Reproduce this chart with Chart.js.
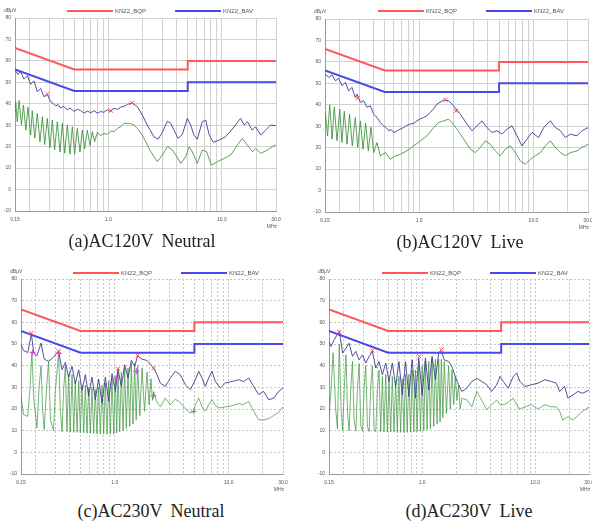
<!DOCTYPE html>
<html>
<head>
<meta charset="utf-8">
<title>Conducted emission AC120V / AC230V</title>
<script src="https://cdn.jsdelivr.net/npm/chart.js@4.4.1/dist/chart.umd.min.js"></script>
<style>
	html, body { margin: 0; padding: 0; background: #fff; }
	body { position: relative; width: 592px; height: 523px; overflow: hidden; }
	.emi-canvas { position: absolute; }
	.emi-legend {
		position: absolute; display: flex; align-items: center; height: 8px;
		font: 6px "Liberation Sans", Arial, sans-serif; color: #555; white-space: nowrap;
	}
	.emi-legend .sw { display: inline-block; width: 46px; height: 2px; margin-right: 2px; }
	.emi-legend .txt { margin-right: 29px; }
	.emi-caption {
		position: absolute; height: 20px; line-height: 20px; text-align: center;
		font: 18px "Liberation Serif", "DejaVu Serif", serif; color: #222; word-spacing: 4px;
	}
</style>
</head>
<body>
<canvas id="emiA" class="emi-canvas" width="296" height="232" style="left:0;top:0"></canvas>
<canvas id="emiB" class="emi-canvas" width="304" height="232" style="left:296px;top:0"></canvas>
<canvas id="emiC" class="emi-canvas" width="296" height="230" style="left:0;top:262px"></canvas>
<canvas id="emiD" class="emi-canvas" width="304" height="230" style="left:296px;top:262px"></canvas>

<div class="emi-caption" style="left:0;top:231px;width:284px">(a)AC120V Neutral</div>
<div class="emi-caption" style="left:296px;top:232px;width:328px">(b)AC120V Live</div>
<div class="emi-caption" style="left:0;top:501px;width:302px">(c)AC230V Neutral</div>
<div class="emi-caption" style="left:296px;top:501px;width:346px">(d)AC230V Live</div>

<script>
(function() {
	'use strict';

	/* ═══ DATA ═══ */

	// KN22 class B limits (MHz / dBuV)
	var limitFreq = [ 0.15, 0.5, 5, 5, 30 ];
	var qpLimit   = [ 66, 56, 56, 60, 60 ];
	var avLimit   = [ 56, 46, 46, 50, 50 ];

	var freqTicks     = [ 0.15, 0.2, 0.3, 0.4, 0.5, 0.6, 0.7, 0.8, 0.9, 1, 2, 3, 4, 5, 6, 7, 8, 9, 10, 20, 30 ];
	var freqLabelAt   = [ 0.15, 1, 10, 30 ];
	var freqLabelText = [ '0.15', '1.0', '10.0', '30.0' ];

	// (a) AC120V Neutral
	var aPeak = [[0.15,55.7],[0.159,53.7],[0.168,55.0],[0.180,51.5],[0.193,53.1],[0.206,49.1],[0.221,50.6],[0.236,45.6],[0.253,47.2],[0.270,43.3],[0.289,44.4],[0.309,41.0],[0.325,40.2],[0.342,39.0],[0.36,39.6],[0.379,38.0],[0.40,38.8],[0.434,37.2],[0.46,38.0],[0.497,36.4],[0.53,37.4],[0.569,36.8],[0.61,35.6],[0.651,36.6],[0.70,35.8],[0.745,36.8],[0.80,35.6],[0.853,36.4],[0.91,36.0],[0.978,37.2],[1.04,36.4],[1.12,37.9],[1.20,37.4],[1.28,38.4],[1.37,38.8],[1.47,39.7],[1.62,40.4],[1.80,38.6],[1.99,34.7],[2.20,30.1],[2.52,24.6],[2.74,23.5],[2.99,26.7],[3.31,31.9],[3.54,30.9],[3.84,27.0],[4.11,23.9],[4.48,25.7],[4.96,33.2],[5.30,30.1],[5.67,25.4],[6.07,23.5],[6.72,31.6],[7.20,32.4],[7.70,25.7],[8.40,22.0],[9.47,23.1],[10.75,24.6],[11.95,27.3],[13.2,30.1],[14.6,33.2],[15.7,30.1],[16.8,31.6],[18.5,27.7],[19.8,29.3],[22.0,25.4],[24.3,27.7],[26.9,30.1],[30,29.8]];
	var aAvg  = [[0.15,36.0],[0.152,41.0],[0.157,31.6],[0.163,41.5],[0.171,30.1],[0.178,39.4],[0.187,27.7],[0.195,38.4],[0.206,25.4],[0.213,36.8],[0.224,23.9],[0.236,35.5],[0.249,22.3],[0.262,34.0],[0.274,21.0],[0.289,33.2],[0.305,19.5],[0.320,32.4],[0.335,18.5],[0.354,31.6],[0.374,17.5],[0.392,30.9],[0.411,17.0],[0.434,30.1],[0.458,16.5],[0.480,29.3],[0.503,16.5],[0.531,28.5],[0.561,17.5],[0.588,27.7],[0.617,19.0],[0.651,27.7],[0.687,20.5],[0.720,27.0],[0.755,22.3],[0.798,26.7],[0.85,25.2],[0.914,26.2],[0.98,25.8],[1.047,27.3],[1.12,27.0],[1.198,28.5],[1.28,29.2],[1.372,30.9],[1.52,30.9],[1.68,30.1],[1.86,27.7],[2.06,23.9],[2.36,17.6],[2.70,13.0],[2.99,16.1],[3.31,20.0],[3.59,18.9],[3.92,16.1],[4.34,12.2],[4.80,15.3],[5.14,20.0],[5.49,17.6],[6.07,12.2],[6.72,18.4],[7.35,17.6],[8.07,11.4],[9.14,13.0],[10.45,14.5],[11.95,16.1],[13.7,20.7],[15.1,23.9],[16.8,20.7],[18.6,17.6],[19.8,19.2],[22.0,16.9],[25.2,18.4],[27.9,20.0],[30,20.7]];
	var aQpMarks = [[0.29,44.5],[1.05,36.8],[1.62,40.4]];
	var aAvMarks = [];

	// (b) AC120V Live
	var bPeak = [[0.15,54.3],[0.162,52.8],[0.173,53.9],[0.185,51.2],[0.198,52.3],[0.211,48.9],[0.226,50.4],[0.242,46.5],[0.258,48.1],[0.276,43.4],[0.286,45.0],[0.306,41.1],[0.327,41.9],[0.350,38.8],[0.374,39.5],[0.400,35.6],[0.428,34.1],[0.457,31.7],[0.489,30.2],[0.51,29.5],[0.541,27.9],[0.57,28.4],[0.598,27.1],[0.63,27.6],[0.661,28.3],[0.70,28.9],[0.732,29.4],[0.78,30.4],[0.837,31.0],[0.90,31.4],[0.957,32.5],[1.02,33.4],[1.095,34.1],[1.17,34.9],[1.252,36.4],[1.34,38.2],[1.432,40.3],[1.638,42.2],[1.812,41.9],[2.004,39.5],[2.292,35.6],[2.621,31.0],[2.900,27.9],[3.206,30.2],[3.546,32.5],[3.922,29.4],[4.338,27.1],[4.797,27.9],[5.306,26.3],[5.868,28.6],[6.491,30.2],[7.178,25.5],[7.940,20.8],[8.780,24.0],[9.711,27.1],[11.11,24.7],[12.28,29.4],[14.05,32.5],[15.54,29.4],[17.19,27.9],[19.01,24.7],[21.02,26.3],[24.04,25.5],[26.60,27.9],[30,29.4]];
	var bAvg  = [[0.151,36.5],[0.158,25.5],[0.165,40.0],[0.173,24.0],[0.181,39.0],[0.191,23.2],[0.202,38.0],[0.211,22.4],[0.221,37.0],[0.234,21.6],[0.246,35.5],[0.260,20.8],[0.276,34.0],[0.290,20.1],[0.306,32.5],[0.323,19.3],[0.340,31.5],[0.359,18.5],[0.379,29.5],[0.400,17.7],[0.428,22.4],[0.457,16.2],[0.506,17.7],[0.559,14.6],[0.619,16.2],[0.684,16.9],[0.782,18.5],[0.895,20.8],[1.024,23.2],[1.171,25.5],[1.339,29.4],[1.481,31.7],[1.638,32.5],[1.812,33.3],[1.938,31.7],[2.143,28.6],[2.451,24.0],[2.803,19.3],[3.100,17.7],[3.429,20.1],[3.793,23.2],[4.195,21.6],[4.639,18.5],[5.131,16.2],[5.675,19.3],[6.277,20.8],[6.942,17.7],[7.678,13.8],[8.491,12.3],[9.391,14.6],[10.38,16.2],[11.48,17.7],[12.70,20.8],[14.05,23.2],[15.54,20.1],[17.19,17.7],[19.01,16.2],[21.02,17.7],[24.04,18.5],[26.60,20.1],[30,21.6]];
	var bQpMarks = [[0.29,43.2],[1.70,42.2],[2.10,37.2]];
	var bAvMarks = [];

	// (c) AC230V Neutral
	var cPeak = [[0.15,49.7],[0.158,47.0],[0.172,46.1],[0.185,54.7],[0.194,45.8],[0.207,44.6],[0.225,50.4],[0.240,43.0],[0.262,42.0],[0.290,44.0],[0.321,46.6],[0.344,38.1],[0.368,41.5],[0.393,34.7],[0.421,39.7],[0.450,31.7],[0.482,38.1],[0.515,28.6],[0.551,35.8],[0.589,26.1],[0.630,34.7],[0.674,24.3],[0.721,33.8],[0.772,22.7],[0.826,34.7],[0.884,23.5],[0.945,36.3],[1.011,28.1],[1.067,38.4],[1.141,30.4],[1.221,40.4],[1.306,34.3],[1.397,42.4],[1.494,39.7],[1.588,44.6],[1.733,43.0],[1.918,42.4],[2.079,40.4],[2.194,38.9],[2.348,35.8],[2.511,32.0],[2.779,30.4],[3.074,34.3],[3.401,37.4],[3.763,35.8],[4.164,31.2],[4.607,28.9],[5.096,33.5],[5.451,37.4],[5.833,34.3],[6.237,30.4],[6.673,34.3],[7.139,37.4],[7.637,32.7],[8.452,29.7],[9.348,32.0],[10.70,32.7],[12.24,33.5],[13.54,32.7],[14.98,34.3],[16.58,30.4],[18.34,26.6],[20.29,28.1],[22.45,24.3],[24.85,25.0],[27.49,28.1],[30,29.7]];
	var cAvg  = [[0.15,25.8],[0.158,17.4],[0.172,16.6],[0.18,30.0],[0.187,46.5],[0.194,25.0],[0.207,11.2],[0.216,30.0],[0.225,40.0],[0.232,20.0],[0.240,10.5],[0.252,30.0],[0.262,42.0],[0.272,15.0],[0.290,10.0],[0.300,28.0],[0.321,46.0],[0.332,20.0],[0.344,9.5],[0.356,30.0],[0.368,40.0],[0.380,9.5],[0.393,36.0],[0.406,9.3],[0.421,36.0],[0.436,9.2],[0.450,33.0],[0.466,9.2],[0.482,33.0],[0.498,9.0],[0.515,31.0],[0.533,9.0],[0.551,31.0],[0.570,8.8],[0.589,30.0],[0.610,8.8],[0.630,30.0],[0.652,8.6],[0.674,29.0],[0.697,8.6],[0.721,30.0],[0.746,8.5],[0.772,31.0],[0.799,8.5],[0.826,32.0],[0.855,8.4],[0.884,33.0],[0.914,8.4],[0.945,34.0],[0.978,8.5],[1.011,35.0],[1.039,9.0],[1.067,37.0],[1.104,9.5],[1.141,37.0],[1.181,10.0],[1.221,39.0],[1.263,11.0],[1.306,39.0],[1.351,12.0],[1.397,41.0],[1.445,13.0],[1.494,41.0],[1.540,15.0],[1.588,40.0],[1.660,17.0],[1.733,39.0],[1.825,19.0],[1.918,37.0],[2.000,22.0],[2.079,34.0],[2.140,24.0],[2.194,28.0],[2.348,23.0],[2.511,21.0],[2.779,25.0],[3.074,22.0],[3.401,24.5],[3.763,23.0],[4.164,20.0],[4.607,18.0],[4.93,19.0],[5.096,22.0],[5.451,25.0],[5.833,21.0],[6.237,19.0],[6.673,22.0],[7.139,24.3],[7.637,21.5],[8.452,20.5],[9.348,21.0],[10.70,21.5],[12.24,22.5],[13.54,22.0],[14.98,23.5],[16.58,19.0],[18.34,15.0],[20.29,15.0],[22.45,15.5],[24.85,17.0],[27.49,18.5],[30,21.0]];
	var cQpMarks = [[0.185,55.0],[0.321,46.8],[1.067,38.6],[1.588,44.6],[2.194,38.9]];
	var cAvMarks = [[0.190,46.1],[0.321,45.6],[1.03,34.3],[1.545,37.4],[2.19,26.1],[4.93,18.9]];

	// (d) AC230V Live
	var dPeak = [[0.15,51.2],[0.156,48.9],[0.167,52.0],[0.185,55.9],[0.198,45.8],[0.212,48.1],[0.226,50.4],[0.242,44.3],[0.259,46.6],[0.277,42.7],[0.297,45.0],[0.317,41.2],[0.340,44.3],[0.363,46.6],[0.389,38.9],[0.416,41.9],[0.445,35.8],[0.476,41.2],[0.509,32.7],[0.545,41.2],[0.583,30.4],[0.623,41.9],[0.667,26.5],[0.713,41.9],[0.763,25.8],[0.816,42.7],[0.873,25.0],[0.934,43.5],[1.000,26.5],[1.069,43.5],[1.144,28.8],[1.224,44.3],[1.310,33.5],[1.401,45.8],[1.479,46.6],[1.571,42.7],[1.715,41.9],[1.835,39.6],[1.963,35.0],[2.100,31.2],[2.247,28.1],[2.486,29.6],[2.752,32.7],[3.044,34.2],[3.368,32.7],[3.728,31.2],[4.124,28.1],[4.563,31.2],[4.883,35.0],[5.224,32.7],[5.780,29.6],[6.397,35.0],[6.842,36.6],[7.320,32.7],[8.100,30.4],[9.271,31.2],[10.61,31.9],[12.15,33.5],[13.90,32.7],[15.38,31.9],[16.46,28.1],[18.21,30.4],[19.48,25.0],[21.56,26.5],[23.86,28.1],[26.40,27.3],[30,28.8]];
	var dAvg  = [[0.15,16.0],[0.156,28.0],[0.163,46.0],[0.172,20.0],[0.178,11.0],[0.185,50.0],[0.192,20.0],[0.198,10.0],[0.205,30.0],[0.212,45.0],[0.219,18.0],[0.226,10.0],[0.234,30.0],[0.242,42.0],[0.250,15.0],[0.259,9.8],[0.268,30.0],[0.277,41.0],[0.287,12.0],[0.297,9.7],[0.307,30.0],[0.317,40.0],[0.328,12.0],[0.340,9.6],[0.351,30.0],[0.363,40.0],[0.376,10.0],[0.389,9.5],[0.402,30.0],[0.416,38.0],[0.430,9.5],[0.445,35.0],[0.460,9.4],[0.476,36.0],[0.492,9.4],[0.509,33.0],[0.527,9.3],[0.545,35.0],[0.564,9.3],[0.583,33.0],[0.603,9.2],[0.623,35.0],[0.645,9.2],[0.667,34.0],[0.690,9.2],[0.713,36.0],[0.738,9.2],[0.763,36.0],[0.789,9.3],[0.816,38.0],[0.844,9.4],[0.873,38.0],[0.903,9.5],[0.934,40.0],[0.967,9.6],[1.000,40.0],[1.034,10.0],[1.069,42.0],[1.106,10.5],[1.144,42.0],[1.184,11.0],[1.224,43.0],[1.266,12.0],[1.310,43.0],[1.355,13.0],[1.401,43.0],[1.440,14.0],[1.479,43.0],[1.525,16.0],[1.571,42.0],[1.640,18.0],[1.715,40.0],[1.775,20.0],[1.835,38.0],[1.900,22.0],[1.963,35.0],[2.03,24.0],[2.100,31.0],[2.17,20.0],[2.247,25.0],[2.486,24.2],[2.752,21.0],[3.044,28.1],[3.368,24.0],[3.728,19.6],[4.124,22.0],[4.563,24.2],[4.883,22.0],[5.224,22.0],[5.780,23.0],[6.397,25.0],[6.842,22.0],[7.320,20.0],[8.100,21.0],[9.271,22.0],[10.61,20.0],[12.15,22.0],[13.90,21.0],[15.38,21.0],[16.46,19.0],[17.5,14.9],[19.48,16.5],[21.56,14.9],[23.86,17.0],[26.40,19.0],[30,21.0]];
	var dQpMarks = [[0.185,55.5],[0.363,47.0],[0.945,44.3],[1.479,47.4]];
	var dAvMarks = [];

	/* ═══ PANELS ═══ */

	var panels = [
		{ id: 'emiA', peak: aPeak, avg: aAvg, qp: aQpMarks, av: aAvMarks, yw: 15, pad: { top: 18, right: 20, bottom: 5, left: 0 }, dashed: false, legend: [ 67, 7 ] },
		{ id: 'emiB', peak: bPeak, avg: bAvg, qp: bQpMarks, av: bAvMarks, yw: 29, pad: { top: 19, right: 12, bottom: 4, left: 0 }, dashed: false, legend: [ 378, 7 ] },
		{ id: 'emiC', peak: cPeak, avg: cAvg, qp: cQpMarks, av: cAvMarks, yw: 21, pad: { top: 17, right: 13, bottom: 2, left: 0 }, dashed: true, legend: [ 73, 269 ] },
		{ id: 'emiD', peak: dPeak, avg: dAvg, qp: dQpMarks, av: dAvMarks, yw: 33, pad: { top: 17, right: 9, bottom: 2, left: 0 }, dashed: true, legend: [ 382, 269 ] }
	];

	var tickFont = { size: 5, family: '"Liberation Sans", Arial, sans-serif' };

	var unitLabels = {
		id: 'unitLabels',
		afterDraw: function( chart ) {
			var a   = chart.chartArea;
			var ctx = chart.ctx;
			ctx.save();
			ctx.font = '5px "Liberation Sans", Arial, sans-serif';
			ctx.fillStyle = '#555';
			ctx.textBaseline = 'middle';
			ctx.textAlign = 'left';
			ctx.fillText( 'dBµV', a.left - 11, a.top - 7 );
			ctx.textAlign = 'right';
			ctx.fillText( 'MHz', a.right + 1, a.bottom + 16 );
			ctx.restore();
		}
	};

	panels.forEach( initPanel );

	function initPanel( p ) {
		var el = document.getElementById( p.id );
		if ( ! el ) return;

		// dense harmonic panels get a lighter green so the comb reads as a fill
		var avgColor = p.dashed ? 'rgba(58, 150, 58, 0.7)' : 'rgba(48, 140, 48, 0.8)';

		var datasets = [
			markerSet( p.qp, 'crossRot', '#ff4d4d' ),
			markerSet( p.av, 'cross', '#e03ce0' ),
			limitSet( 'KN22_BQP', qpLimit, '#ff5858' ),
			limitSet( 'KN22_BAV', avLimit, '#4848ec' ),
			traceSet( p.peak, 'rgba(62, 62, 148, 0.9)' ),
			traceSet( p.avg, avgColor )
		];

		var gridColor = p.dashed ? '#c4c4c4' : '#d2d2d2';

		new Chart( el.getContext( '2d' ), {
			type: 'line',
			data: { datasets: datasets },
			options: {
				responsive: false,
				animation: false,
				layout: { padding: p.pad },
				plugins: {
					legend: { display: false },
					tooltip: { enabled: false }
				},
				scales: {
					x: {
						type: 'logarithmic',
						min: 0.15,
						max: 30,
						afterBuildTicks: function( scale ) {
							scale.ticks = freqTicks.map( function( v ) { return { value: v }; } );
						},
						afterFit: function( scale ) { scale.height = 16; },
						ticks: {
							autoSkip: false,
							maxRotation: 0,
							padding: 6,
							font: tickFont,
							color: '#555',
							callback: function( v ) {
								var i = freqLabelAt.indexOf( v );
								return i < 0 ? '' : freqLabelText[i];
							}
						},
						grid: { color: gridColor, drawTicks: false },
						border: { color: '#9a9a9a', dash: p.dashed ? [ 2, 2 ] : [] }
					},
					y: {
						min: -10,
						max: 80,
						afterFit: function( scale ) { scale.width = p.yw; },
						ticks: { stepSize: 10, padding: 4, font: tickFont, color: '#555' },
						grid: { color: gridColor, drawTicks: false },
						border: { color: '#9a9a9a', dash: p.dashed ? [ 2, 2 ] : [] }
					}
				}
			},
			plugins: [ unitLabels ]
		});

		buildLegend( p, datasets );
	}

	function limitSet( label, values, color ) {
		return {
			label: label,
			inLegend: true,
			data: limitFreq.map( function( f, i ) { return [ f, values[i] ]; } ),
			borderColor: color,
			backgroundColor: color,
			borderWidth: 2,
			pointRadius: 0,
			tension: 0
		};
	}

	function traceSet( data, color ) {
		return {
			data: data,
			borderColor: color,
			borderWidth: 1,
			pointRadius: 0,
			tension: 0
		};
	}

	function markerSet( data, style, color ) {
		return {
			data: data,
			showLine: false,
			pointStyle: style,
			pointRadius: 3,
			pointBorderWidth: 1,
			pointBorderColor: color,
			borderColor: color
		};
	}

	/* ═══ HTML LEGEND ═══ */

	function buildLegend( p, datasets ) {
		var box = document.createElement( 'div' );
		box.className = 'emi-legend';
		box.style.left = p.legend[0] + 'px';
		box.style.top  = p.legend[1] + 'px';

		var html = '';
		for ( var i = 0; i < datasets.length; i++ ) {
			var ds = datasets[i];
			if ( ! ds.inLegend ) continue;
			html += '<span class="sw" style="background:' + ds.borderColor + '"></span>'
				+ '<span class="txt">' + ds.label + '</span>';
		}
		box.innerHTML = html;
		document.body.appendChild( box );
	}

})();
</script>
</body>
</html>
